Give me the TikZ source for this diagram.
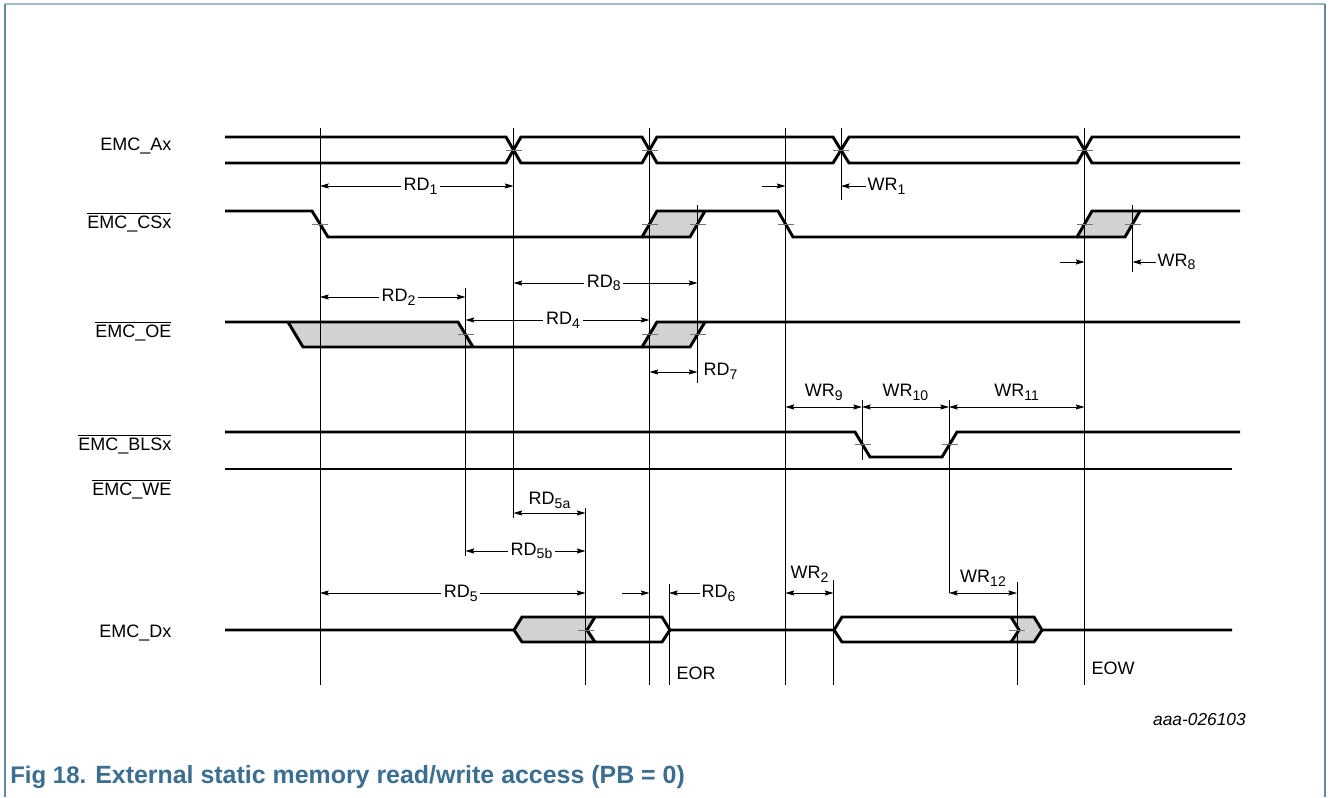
\documentclass[tikz,border=0pt]{standalone}
\usepackage{fontspec}
\setmainfont{Liberation Sans}
\usetikzlibrary{arrows.meta}
\definecolor{capblue}{HTML}{3C6E8F}
\definecolor{frametop}{HTML}{A3B7C3}
\definecolor{frameside}{HTML}{5E8CA6}
\definecolor{greyfill}{HTML}{D2D2D2}
\newcommand{\sig}[2]{#1\raisebox{-2.8pt}{\fontsize{10.5}{12}\selectfont #2}}
\newcommand{\ovl}[1]{$\overline{\mbox{#1}}$}
\tikzset{
  wave/.style={line width=2.2pt, line join=miter},
  guide/.style={line width=0.7pt},
  dim/.style={line width=0.6pt, {Stealth[length=6.5pt,width=3.8pt,inset=1pt]}-{Stealth[length=6.5pt,width=3.8pt,inset=1pt]}},
  dimto/.style={line width=0.6pt, -{Stealth[length=6.5pt,width=3.8pt,inset=1pt]}},
  tickmark/.style={line width=0.7pt, black!55},
  lbl/.style={font=\fontsize{13.5}{16}\selectfont, inner sep=1pt},
  gap/.style={lbl, fill=white, inner sep=2pt},
  signame/.style={lbl, anchor=base east},
}

\begin{document}
\begin{tikzpicture}[x=0.75pt, y=-0.75pt]
    \useasboundingbox (0,0) rectangle (1329,797);
    % frame
    \draw[frametop, line width=1.2pt] (5,4) -- (1325,4);
    \draw[frameside, line width=1.2pt] (5,4) -- (5,797);
    \draw[frameside, line width=1.2pt] (1325,4) -- (1325,797);
    % time marks
    \coordinate (t1) at (320,0);
    \coordinate (t2) at (513.5,0);
    \coordinate (t3) at (649.5,0);
    \coordinate (t4) at (697.5,0);
    \coordinate (t5) at (785.5,0);
    \coordinate (t6) at (841,0);
    \coordinate (t7) at (1084.5,0);
    \coordinate (t8) at (1132.5,0);
    \coordinate (t9) at (465.5,0);
    \coordinate (t10) at (585.5,0);
    \coordinate (t11) at (669,0);
    \coordinate (t12) at (833.5,0);
    \coordinate (t13) at (862,0);
    \coordinate (t14) at (949,0);
    \coordinate (t15) at (1017,0);
    % signal names
    \node[signame] (ax) at (173,150) {EMC\_Ax};
    \node[signame] (cs) at (173,228) {\ovl{EMC\_CSx}};
    \node[signame] (oe) at (173,337) {\ovl{EMC\_OE}};
    \node[signame] (bls) at (173,450) {\ovl{EMC\_BLSx}};
    \node[signame] (we) at (173,495) {\ovl{EMC\_WE}};
    \node[signame] (dx) at (173,637) {EMC\_Dx};
    % grey areas
    \fill[greyfill] (642,237) -- (657,211) -- (705,211) -- (690,237) -- cycle;
    \fill[greyfill] (1077,237) -- (1092,211) -- (1140,211) -- (1125,237) -- cycle;
    \fill[greyfill] (288,322) -- (458,322) -- (473,347) -- (303,347) -- cycle;
    \fill[greyfill] (642,347) -- (657,322) -- (705,322) -- (690,347) -- cycle;
    \fill[greyfill] (514,630) -- (522,617) -- (595,617) -- (587,630) -- (595,642) -- (522,642) -- cycle;
    \fill[greyfill] (1011,617) -- (1034,617) -- (1042,630) -- (1034,642) -- (1011,642) -- (1019,630) -- cycle;
    % guide lines
    \foreach \t/\a/\b in {t1/128/685, t2/128/518, t3/128/685, t4/205/383, t5/128/685,
        t6/128/200, t7/128/685, t8/205/272, t9/288/556, t10/508/685, t11/584/685,
        t12/580/685, t13/400/460, t14/400/593, t15/582/685}
        \draw[guide] (\t |- 0,\a) -- (\t |- 0,\b);
    % EMC_Ax
    \draw[wave] (225,137) -- (506,137) -- (521,163) -- (642,163) -- (657,137) -- (833,137) -- (849,163) -- (1077,163) -- (1092,137) -- (1240,137);
    \draw[wave] (225,163) -- (506,163) -- (521,137) -- (642,137) -- (657,163) -- (833,163) -- (849,137) -- (1077,137) -- (1092,163) -- (1240,163);
    % EMC_CSx
    \draw[wave] (225,211) -- (312,211) -- (328,237) -- (642,237) -- (657,211) -- (778,211) -- (793,237) -- (1077,237) -- (1092,211) -- (1240,211);
    \draw[wave] (642,237) -- (690,237) -- (705,211);
    \draw[wave] (1077,237) -- (1125,237) -- (1140,211);
    % EMC_OE
    \draw[wave] (225,322) -- (458,322) -- (473,347);
    \draw[wave] (288,322) -- (303,347) -- (642,347) -- (657,322) -- (1240,322);
    \draw[wave] (642,347) -- (690,347) -- (705,322);
    % EMC_BLSx, EMC_WE
    \draw[wave] (225,432) -- (855,432) -- (870,457) -- (942,457) -- (957,432) -- (1240,432);
    \draw[wave] (225,469) -- (1232,469);
    % EMC_Dx
    \draw[wave] (225,630) -- (514,630) -- (522,617) -- (662,617) -- (670,630) -- (834,630) -- (842,617) -- (1034,617) -- (1042,630) -- (1232,630);
    \draw[wave] (514,630) -- (522,642) -- (662,642) -- (670,630);
    \draw[wave] (834,630) -- (842,642) -- (1034,642) -- (1042,630);
    \draw[wave] (595,617) -- (587,630) -- (595,642);
    \draw[wave] (1011,617) -- (1019,630) -- (1011,642);
    % crossing marks
    \foreach \x/\y in {513.5/150, 649.5/150, 841/150, 1084.5/150, 320/224, 649.5/224,
        697.5/224, 785.5/224, 1084.5/224, 1132.5/224, 465.5/334.5, 649.5/334.5,
        697.5/334.5, 862.5/444.5, 949.5/444.5, 586/630, 1017/630}
        \draw[tickmark] (\x-8,\y) -- (\x+8,\y);
    % read timings
    \draw[dim] (t1 |- 0,186) -- node[gap, pos=0.52] (rd1) {\sig{RD}{1}} (t2 |- 0,186);
    \draw[dim] (t2 |- 0,283) -- node[gap, pos=0.49] (rd8) {\sig{RD}{8}} (t4 |- 0,283);
    \draw[dim] (t1 |- 0,297) -- node[gap, pos=0.54] (rd2) {\sig{RD}{2}} (t9 |- 0,297);
    \draw[dim] (t9 |- 0,320) -- node[gap, pos=0.53] (rd4) {\sig{RD}{4}} (t3 |- 0,320);
    \draw[dim] (t3 |- 0,372) -- (t4 |- 0,372);
    \node[lbl, anchor=west] (rd7) at (702,371) {\sig{RD}{7}};
    \draw[dim] (t2 |- 0,513) -- node[lbl, midway, yshift=9.5pt] (rd5a) {\sig{RD}{5a}} (t10 |- 0,513);
    \draw[dim] (t9 |- 0,551) -- node[gap, pos=0.55] (rd5b) {\sig{RD}{5b}} (t10 |- 0,551);
    \draw[dim] (t1 |- 0,593) -- node[gap, pos=0.53] (rd5) {\sig{RD}{5}} (t10 |- 0,593);
    \node[lbl, anchor=west] (rd6) at (700,593) {\sig{RD}{6}};
    \draw[dimto] (622,593) -- (t3 |- 0,593);
    \draw[dimto] (rd6.west) -- (t11 |- rd6.west);
    % write timings
    \node[lbl, anchor=west] (wr1) at (866,186) {\sig{WR}{1}};
    \draw[dimto] (762,186) -- (t5 |- 0,186);
    \draw[dimto] (wr1.west) -- (t6 |- wr1.west);
    \node[lbl, anchor=west] (wr8) at (1156,262) {\sig{WR}{8}};
    \draw[dimto] (1060,262) -- (t7 |- 0,262);
    \draw[dimto] (wr8.west) -- (t8 |- wr8.west);
    \draw[dim] (t5 |- 0,407) -- node[lbl, midway, yshift=11pt] (wr9) {\sig{WR}{9}} (t13 |- 0,407);
    \draw[dim] (t13 |- 0,407) -- node[lbl, midway, yshift=11pt] (wr10) {\sig{WR}{10}} (t14 |- 0,407);
    \draw[dim] (t14 |- 0,407) -- node[lbl, midway, yshift=11pt] (wr11) {\sig{WR}{11}} (t7 |- 0,407);
    \draw[dim] (t5 |- 0,593) -- node[lbl, midway, yshift=14pt] (wr2) {\sig{WR}{2}} (t12 |- 0,593);
    \draw[dim] (t14 |- 0,593) -- node[lbl, midway, yshift=11pt] (wr12) {\sig{WR}{12}} (t15 |- 0,593);
    % end markers
    \node[lbl, anchor=base west] (eor) at (675,679) {EOR};
    \node[lbl, anchor=base west] (eow) at (1090,674) {EOW};
    % figure id and caption
    \node[anchor=base east, inner sep=0pt, font=\itshape\fontsize{13}{15}\selectfont] (docid) at (1246,725) {aaa-026103};
    \node[anchor=base west, inner sep=0pt, text=capblue, font=\bfseries\fontsize{18}{20}\selectfont] (fig) at (10,783) {Fig 18.};
    \node[anchor=base west, inner sep=0pt, text=capblue, font=\bfseries\fontsize{18.7}{21}\selectfont] (title) at (95,783) {External static memory read/write access (PB = 0)};
\end{tikzpicture}
\end{document}
